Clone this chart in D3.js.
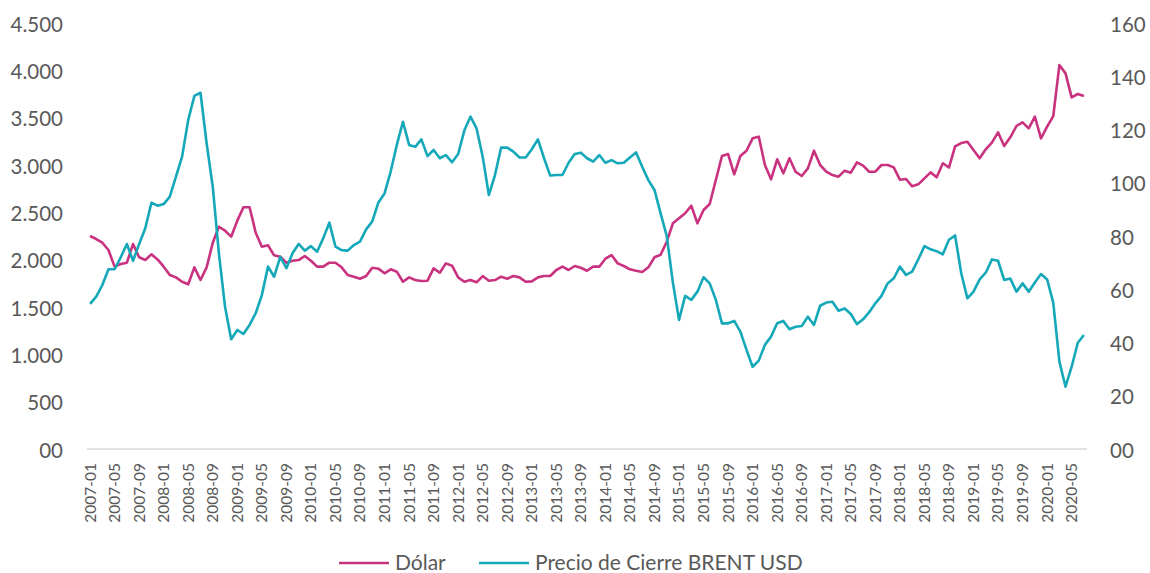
<!DOCTYPE html>
<html>
<head>
<meta charset="utf-8">
<script src="https://cdn.jsdelivr.net/npm/d3@7"></script>
<style>
  html, body { margin: 0; padding: 0; background: #fff; }
  svg { display: block; font-family: Lato, "Noto Sans", sans-serif; }
</style>
</head>
<body>
<svg id="chart" width="1150" height="573"></svg>
<script>
// ---- Data ----
const startMonth = "2007-01";
const monthCount = 163;
const seriesNames = ["Dólar", "Precio de Cierre BRENT USD"];
const dolar = [
  2250,2218,2179,2102,1926,1954,1968,2165,2025,1996,2056,2003,
  1926,1838,1813,1767,1740,1919,1785,1919,2179,2348,2306,2243,
  2412,2553,2553,2285,2137,2152,2046,2031,1968,1989,1996,2039,
  1989,1926,1926,1968,1968,1919,1838,1820,1799,1827,1915,1905,
  1856,1898,1873,1767,1813,1785,1775,1778,1908,1862,1961,1936,
  1813,1767,1785,1761,1827,1778,1785,1820,1799,1827,1813,1767,
  1771,1813,1827,1827,1891,1926,1891,1933,1915,1883,1926,1926,
  2010,2049,1961,1933,1898,1883,1870,1919,2025,2052,2190,2384,
  2437,2490,2570,2384,2525,2588,2841,3095,3116,2901,3095,3151,
  3282,3299,3000,2849,3060,2912,3071,2929,2884,2965,3151,3000,
  2929,2894,2877,2940,2919,3028,2993,2929,2929,3000,3000,2975,
  2845,2852,2775,2796,2859,2922,2870,3018,2973,3197,3232,3246,
  3158,3071,3166,3236,3345,3200,3292,3412,3451,3387,3510,3282,
  3405,3517,4056,3968,3715,3750,3729
];
const brent = [
  54.5,57.2,61.6,67.5,67.5,72,77,70.7,77,82.9,92.5,91.4,
  92,94.8,102.3,109.8,123.6,132.6,133.8,114.8,98.5,73.5,53.4,41.2,
  44.7,43.2,46.6,51,57.8,68.5,64.7,72.2,67.9,73.5,77,74.5,
  76.2,74.1,79.1,85,76,74.7,74.5,76.6,77.9,82.5,85.5,92.6,
  96,104.2,114.2,122.9,114.2,113.5,116.3,110,112.3,109.2,110.4,107.7,
  110.8,119.6,124.8,120.4,109.8,95.4,102.9,113.2,113.2,111.7,109.5,109.5,
  112.6,116.3,109.2,102.7,102.9,102.9,107.5,110.8,111.3,109.2,107.9,110.4,
  107.5,108.5,107.3,107.5,109.5,111.4,106,101,97.3,88.5,80,62.5,
  48.5,57.5,56,59.1,64.5,62.2,56,47.2,47.2,48.1,44.1,37.2,
  30.9,33.2,39.1,42.2,47.2,48.1,45,45.9,46.2,49.7,46.6,53.8,
  55,55.3,51.9,52.8,50.7,46.9,48.7,51.4,54.7,57.5,62.2,64.1,
  68.5,65.4,66.6,71.2,76.2,75,74.3,73.1,78.6,80.2,66,56.6,
  59.1,63.7,66.2,71.2,70.7,63.5,64,59.1,62.2,59.1,62.5,65.7,
  63.7,55,32.8,23.4,30.9,39.9,42.8
];
const leftTicks = [0,500,1000,1500,2000,2500,3000,3500,4000,4500];
const leftTickLabels = ["00","500","1.000","1.500","2.000","2.500","3.000","3.500","4.000","4.500"];
const rightTicks = [0,20,40,60,80,100,120,140,160];
const rightTickLabels = ["00","20","40","60","80","100","120","140","160"];
const xLabelEvery = 4;

// ---- Build categories ----
const fmt = d3.timeFormat("%Y-%m");
const start = d3.timeParse("%Y-%m")(startMonth);
const months = d3.range(monthCount).map(i => fmt(d3.timeMonth.offset(start, i)));

const colors = { dolar: "#C8327F", brent: "#14A8B8" };
const textColor = "#595959";

const svg = d3.select("#chart");
const plot = { left: 87, right: 1087, top: 23, bottom: 449 };

const x = d3.scaleBand().domain(months).range([plot.left, plot.right]).padding(0);
const xc = m => x(m) + x.bandwidth() / 2;
const yL = d3.scaleLinear().domain([0, 4500]).range([plot.bottom, plot.top]);
const yR = d3.scaleLinear().domain([0, 160]).range([plot.bottom, plot.top]);

// Axis line
svg.append("line")
  .attr("x1", plot.left).attr("x2", plot.right)
  .attr("y1", plot.bottom).attr("y2", plot.bottom)
  .attr("stroke", "#D9D9D9").attr("stroke-width", 1.3);

// Left axis
const leftAxis = d3.axisLeft(yL).tickValues(leftTicks)
  .tickFormat((d, i) => leftTickLabels[i]).tickSize(0).tickPadding(0);
const gL = svg.append("g").attr("transform", "translate(63,1.5)").call(leftAxis);
gL.select(".domain").remove();
gL.selectAll("text").attr("fill", textColor).style("font-size", "20.5px")
  .style("font-family", "Lato, 'Noto Sans', sans-serif");

// Right axis
const rightAxis = d3.axisRight(yR).tickValues(rightTicks)
  .tickFormat((d, i) => rightTickLabels[i]).tickSize(0).tickPadding(0);
const gR = svg.append("g").attr("transform", "translate(1110,1.5)").call(rightAxis);
gR.select(".domain").remove();
gR.selectAll("text").attr("fill", textColor).style("font-size", "20.5px")
  .style("font-family", "Lato, 'Noto Sans', sans-serif");

// Bottom axis (category labels)
const xTickVals = months.filter((m, i) => i % xLabelEvery === 0);
const bottomAxis = d3.axisBottom(x).tickValues(xTickVals).tickSize(0).tickPadding(0);
const gB = svg.append("g").attr("transform", `translate(0,${plot.bottom})`).call(bottomAxis);
gB.select(".domain").remove();
gB.selectAll("text")
  .attr("fill", textColor)
  .style("font-size", "15.5px")
  .style("font-family", "Lato, 'Noto Sans', sans-serif")
  .attr("text-anchor", "end")
  .attr("dy", "0.35em")
  .attr("transform", "translate(0,14) rotate(-90)")
  .attr("x", 0).attr("y", 0);

// Lines
const lineL = d3.line().x((d, i) => xc(months[i])).y(d => yL(d));
const lineR = d3.line().x((d, i) => xc(months[i])).y(d => yR(d));

svg.append("path").datum(dolar)
  .attr("fill", "none").attr("stroke", colors.dolar)
  .attr("stroke-width", 2.6).attr("stroke-linejoin", "round")
  .attr("d", lineL);
svg.append("path").datum(brent)
  .attr("fill", "none").attr("stroke", colors.brent)
  .attr("stroke-width", 2.6).attr("stroke-linejoin", "round")
  .attr("d", lineR);

// Legend
const legend = svg.append("g").attr("transform", "translate(0,563)");
const legItems = [
  { name: seriesNames[0], color: colors.dolar, x: 339 },
  { name: seriesNames[1], color: colors.brent, x: 479 }
];
legItems.forEach(it => {
  legend.append("line").attr("x1", it.x).attr("x2", it.x + 50)
    .attr("y1", 0).attr("y2", 0)
    .attr("stroke", it.color).attr("stroke-width", 2.6);
  legend.append("text").attr("x", it.x + 56).attr("y", 0).attr("dy", "0.35em")
    .attr("fill", textColor).style("font-size", "21px").text(it.name);
});
</script>
</body>
</html>
